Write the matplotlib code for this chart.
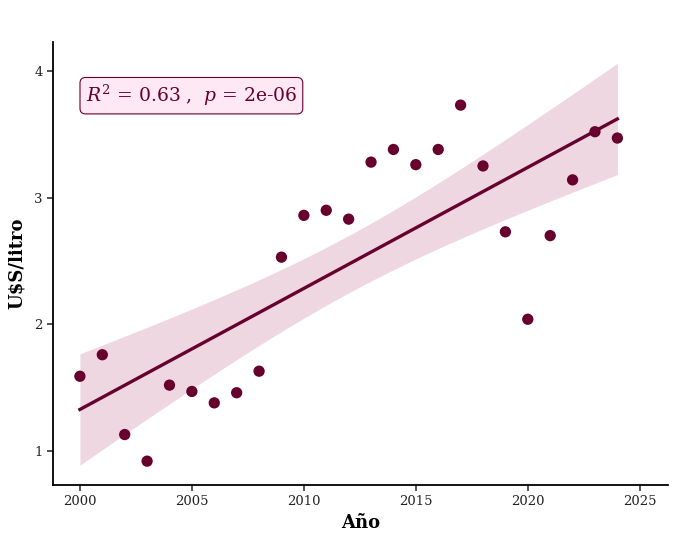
import numpy as np
import matplotlib
matplotlib.use("Agg")
import matplotlib.pyplot as plt

plt.rcParams['font.family'] = ['DejaVu Serif']
plt.rcParams['mathtext.fontset'] = 'dejavuserif'

anios = np.arange(2000, 2025)
precio = np.array([1.59, 1.76, 1.13, 0.92, 1.52, 1.47, 1.38, 1.46, 1.63, 2.53,
                   2.86, 2.90, 2.83, 3.28, 3.38, 3.26, 3.38, 3.73, 3.25, 2.73,
                   2.04, 2.70, 3.14, 3.52, 3.47])

granate = '#67002d'

# ajuste lineal + banda de confianza 95%
b, a = np.polyfit(anios, precio, 1)
xs = np.linspace(anios.min(), anios.max(), 200)
ys = a + b * xs
n = len(anios)
res = precio - (a + b * anios)
s = np.sqrt(np.sum(res**2) / (n - 2))
sxx = np.sum((anios - anios.mean())**2)
se = s * np.sqrt(1 / n + (xs - anios.mean())**2 / sxx)
t = 2.069
r2 = 1 - np.sum(res**2) / np.sum((precio - precio.mean())**2)

fig = plt.figure(figsize=(6.8, 5.44), dpi=100)
ax = fig.add_axes([0.078, 0.1085, 0.904, 0.8145])

ax.fill_between(xs, ys - t * se, ys + t * se, color='#e8c6d5', alpha=0.7, lw=0)
ax.plot(xs, ys, color=granate, lw=2.4)
ax.scatter(anios, precio, s=66, color=granate, zorder=3, edgecolors='none')

ax.text(0.053, 0.907, r'$R^2$ = %.2f ,  $p$ = 2e-06' % r2, transform=ax.transAxes,
        ha='left', va='top', fontsize=13.5, color=granate,
        bbox=dict(boxstyle='round,pad=0.3', fc='#fde8f3', ec=granate, lw=0.8))

ax.set_xlim(1998.8, 2026.25)
ax.set_ylim(0.732, 4.229)
ax.set_xticks([2000, 2005, 2010, 2015, 2020, 2025])
ax.set_yticks([1, 2, 3, 4])
ax.spines['top'].set_visible(False)
ax.spines['right'].set_visible(False)
ax.spines['left'].set_linewidth(1.3)
ax.spines['bottom'].set_linewidth(1.3)
ax.tick_params(labelsize=9.5, length=4, width=1.1, colors='#222222')
ax.set_xlabel('Año', fontsize=13, fontweight='bold', labelpad=4)
ax.set_ylabel('U$S/litro', fontsize=13, fontweight='bold', labelpad=6)

fig.savefig('out.png', dpi=100)
